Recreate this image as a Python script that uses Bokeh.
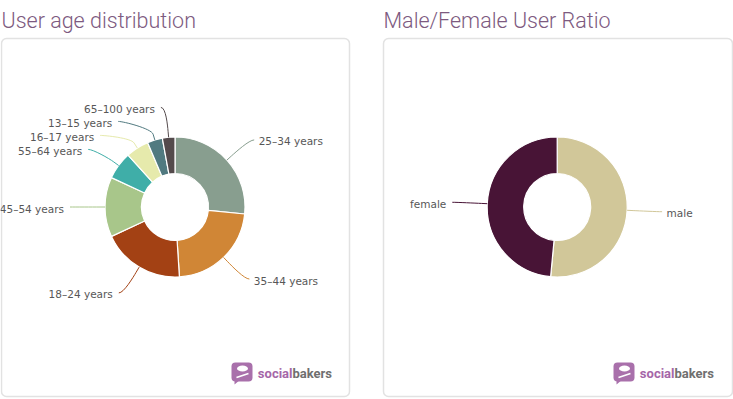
import numpy as np
from bokeh.plotting import figure
from bokeh.models import Range1d
from bokeh.core.properties import value
from bokeh.embed import file_html
from bokeh.resources import INLINE

W, H = 733, 399

# ---- data ----
age_labels = ["25–34 years", "35–44 years", "18–24 years", "45–54 years",
              "55–64 years", "16–17 years", "13–15 years", "65–100 years"]
age_values = [26.6, 22.4, 19.1, 13.8, 6.4, 5.3, 3.5, 2.9]
age_colors = ["#889e8f", "#d08636", "#a34114", "#a8c68a",
              "#3faea8", "#e6eaac", "#517a80", "#544a4c"]

gender_labels = ["male", "female"]
gender_values = [51.5, 48.5]
gender_colors = ["#d1c799", "#481436"]

titles = ["User age distribution", "Male/Female User Ratio"]

p = figure(width=W, height=H, x_range=Range1d(0, W), y_range=Range1d(0, H),
           output_backend="svg", toolbar_location=None, min_border=0)
p.axis.visible = False
p.grid.visible = False
p.outline_line_color = None
p.background_fill_color = "white"
p.border_fill_color = "white"

LABEL_FONT = value("DejaVu Sans")


def donut(cx, cy, values, labels, colors, r_out=70.0, r_in=33.5, dist=30.0):
    vals = np.asarray(values, dtype=float)
    frac = vals / vals.sum()
    ends = np.cumsum(frac) * 2 * np.pi
    starts = ends - frac * 2 * np.pi
    p.annular_wedge(x=cx, y=H - cy, inner_radius=r_in, outer_radius=r_out,
                    start_angle=list(np.pi / 2 - starts), end_angle=list(np.pi / 2 - ends),
                    direction="clock", fill_color=colors, line_color="white", line_width=1.2)
    mid = (starts + ends) / 2
    R = r_out + dist
    ny = cy - np.cos(mid) * R
    left = mid > np.pi
    ly = ny.copy()
    for side in (True, False):
        idx = [i for i in range(len(vals)) if left[i] == side]
        idx.sort(key=lambda i: ny[i])
        prev = -1e9
        for i in idx:
            ly[i] = max(ny[i], prev + 14)
            prev = ly[i]
    for i in range(len(vals)):
        sgn = -1 if left[i] else 1
        lx = cx + sgn * np.sqrt(max(R * R - (ly[i] - cy) ** 2, 0))
        ex, ey = cx + r_out * np.sin(mid[i]), cy - r_out * np.cos(mid[i])
        px, py = cx + (r_out + 6) * np.sin(mid[i]), cy - (r_out + 6) * np.cos(mid[i])
        c2x, c2y = 2 * px - ex, 2 * py - ey
        sx = lx + sgn * 5
        p.bezier(x0=[sx], y0=[H - ly[i]], x1=[px], y1=[H - py],
                 cx0=[lx], cy0=[H - ly[i]], cx1=[c2x], cy1=[H - c2y],
                 line_color=colors[i], line_width=1)
        p.segment(x0=[px], y0=[H - py], x1=[ex], y1=[H - ey],
                  line_color=colors[i], line_width=1)
        tx = lx + (9.5 if not left[i] else -11)
        p.text(x=[tx], y=[H - ly[i] - 1.5], text=[labels[i]],
               text_align="right" if left[i] else "left", text_baseline="middle",
               text_font=LABEL_FONT, text_font_size="10.5px", text_color="#575757")


def panel(x0, x1, y0, y1, title):
    p.quad(left=[x0], right=[x1], top=[H - y0], bottom=[H - y1],
           fill_color=None, line_color="#e2e2e2", line_width=1.5, border_radius=5)
    p.text(x=[x0], y=[H - 19.5], text=[title], text_align="left",
           text_baseline="alphabetic", text_font=value("'Roboto Light', Roboto"),
           text_font_size="21.5px", text_color="#7d5a80")


def logo(ix, iy):
    p.quad(left=[ix], right=[ix + 21], top=[H - iy], bottom=[H - iy - 19],
           fill_color="#a970ab", line_color=None, border_radius=4)
    p.patch(x=[ix + 3, ix + 9, ix + 3], y=[H - iy - 17, H - iy - 17, H - iy - 22],
            fill_color="#a970ab", line_color=None)
    p.ellipse(x=[ix + 11], y=[H - iy - 6], width=11, height=6,
              fill_color="white", line_color=None)
    p.segment(x0=[ix + 5], y0=[H - iy - 15], x1=[ix + 17], y1=[H - iy - 11],
              line_color="white", line_width=1.5)
    p.text(x=[ix + 61], y=[H - iy - 11], text=["social"], text_align="right",
           text_baseline="middle", text_font=value("Roboto"), text_font_style="bold",
           text_font_size="13px", text_color="#a566a8")
    p.text(x=[ix + 61], y=[H - iy - 11], text=["bakers"], text_align="left",
           text_baseline="middle", text_font=value("Roboto"), text_font_style="bold",
           text_font_size="13px", text_color="#6f6f6f")


panel(1, 349, 38, 396, titles[0])
panel(383, 732, 38, 396, titles[1])

donut(174.5, 206.5, age_values, age_labels, age_colors)
donut(556.7, 206.5, gender_values, gender_labels, gender_colors)

logo(231, 362)
logo(613, 362)

open("out.html", "w").write(file_html(p, INLINE))
